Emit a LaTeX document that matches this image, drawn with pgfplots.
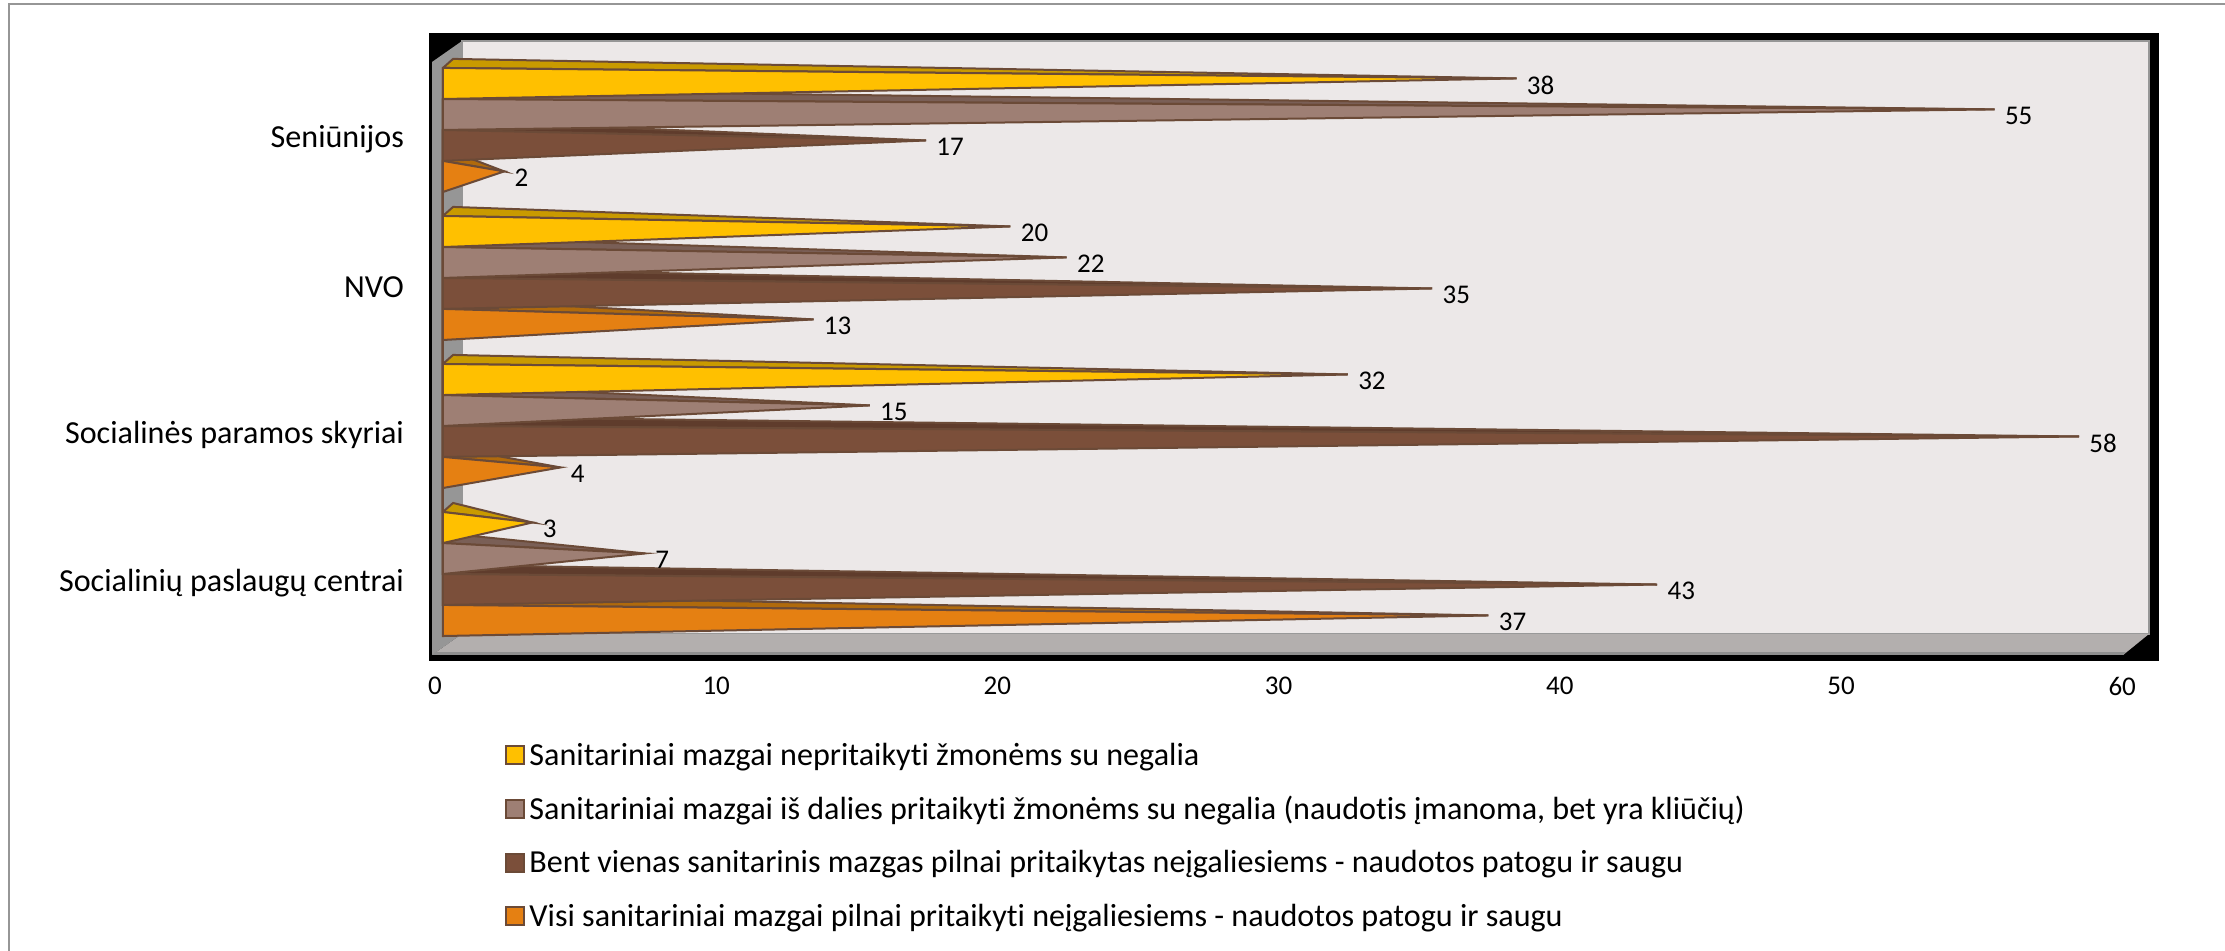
\documentclass[border=0pt]{standalone}
\usepackage{fontspec}
\setmainfont{Carlito}[Ligatures=NoCommon]
\usepackage{pgfplots}
\pgfplotsset{compat=1.18}

% 1 px of the reference = 0.5pt here
\definecolor{cYel}{HTML}{FFC000}
\definecolor{cYelD}{HTML}{C99A00}
\definecolor{cMau}{HTML}{9E7F74}
\definecolor{cMauD}{HTML}{7A5F56}
\definecolor{cBro}{HTML}{7B4F3A}
\definecolor{cBroD}{HTML}{5F3C2C}
\definecolor{cOra}{HTML}{E58012}
\definecolor{cOraD}{HTML}{B06A0C}
\definecolor{cEdge}{HTML}{6B4A37}
\definecolor{cWall}{HTML}{ECE8E8}
\definecolor{cSide}{HTML}{969696}
\definecolor{cFloor}{HTML}{B3AFAE}
\definecolor{cFloorD}{HTML}{8F8F8F}

\newcommand{\lbl}{\fontsize{13.5pt}{15pt}\selectfont}
\newcommand{\txt}{\fontsize{16.05pt}{18pt}\selectfont}

\begin{document}
\begin{tikzpicture}
\useasboundingbox (0,0) rectangle (1112.5pt,-475.5pt);
% outer chart frame, open at right and bottom
\draw[color=cSide,line width=1.2pt] (4.5pt,-475.5pt) -- (4.5pt,-2pt) -- (1112.5pt,-2pt);
\begin{axis}[
    at={(214.5pt,-330pt)},
    anchor=south west,
    scale only axis,
    width=864.5pt,
    height=313.5pt,
    xmin=-0.676, xmax=60.81,
    ymin=-0.581, ymax=3.655,
    axis background/.style={fill=black},
    axis line style={draw=black},
    xtick={0,10,20,30,40,50,60},
    ytick={0,1,2,3},
    yticklabels={Socialinių paslaugų centrai,Socialinės paramos skyriai,NVO,Seniūnijos},
    major tick length=0pt,
    /pgf/number format/assume math mode=true,
    xticklabel style={font=\lbl,xshift=-6.5pt,yshift=-5pt},
    yticklabel style={font=\txt,yshift=-4.6pt,xshift=-9pt},
    legend style={
        at={(0.044,-0.125)},anchor=north west,
        draw=none,fill=none,
        font=\txt,
        row sep=10pt,
        inner sep=0pt,
        /tikz/every even column/.append style={column sep=0pt},
    },
    legend cell align=left,
    legend image code/.code={\draw[#1,line width=1pt] (0pt,-4.5pt) rectangle (9pt,4.5pt);},
    every axis plot/.append style={line join=miter,miter limit=20},
]
% walls of the box
\addplot[fill=cWall,draw=cSide,line width=0.6pt,forget plot] coordinates {(0.498,3.601)(60.49,3.601)(60.49,-0.405)(0.498,-0.405)} --cycle;
\addplot[fill=cSide,draw=none,forget plot] coordinates {(-0.569,3.459)(0.498,3.601)(0.498,-0.405)(-0.569,-0.547)} --cycle;
\addplot[fill=cFloor,draw=none,forget plot] coordinates {(-0.569,-0.547)(0.498,-0.405)(60.49,-0.405)(59.57,-0.547)} --cycle;
\addplot[fill=cFloorD,draw=none,forget plot] coordinates {(-0.569,-0.547)(-0.462,-0.527)(59.67,-0.527)(59.57,-0.547)} --cycle;

% value labels, under the cones as in the reference
\addplot[draw=none,mark=none,forget plot,point meta=x,
    nodes near coords={\pgfmathprintnumber{\pgfplotspointmeta}},
    every node near coord/.style={anchor=west,inner sep=0pt,xshift=5pt,yshift=-3.4pt,font=\lbl}]
    coordinates {
    (38,3.348)(20,2.348)(32,1.348)(3,0.348)
    (55,3.139)(22,2.139)(15,1.139)(7,0.139)
    (17,2.929)(35,1.929)(58,0.929)(43,-0.071)
    (2,2.720)(13,1.720)(4,0.720)(37,-0.280)};

% Visi sanitariniai mazgai
\addplot[fill=cOraD,draw=cEdge,line width=1pt,forget plot] coordinates {
    (-0.18,-0.209)(0.18,-0.148)(37,-0.280)(-0.18,-0.209) (nan,nan)
    (-0.18,0.791)(0.18,0.852)(4,0.720)(-0.18,0.791) (nan,nan)
    (-0.18,1.791)(0.18,1.852)(13,1.720)(-0.18,1.791) (nan,nan)
    (-0.18,2.791)(0.18,2.852)(2,2.720)(-0.18,2.791)};
\addplot[fill=cOra,draw=cEdge,line width=1pt,forget plot] coordinates {
    (-0.18,-0.209)(37,-0.280)(-0.18,-0.419)(-0.18,-0.209) (nan,nan)
    (-0.18,0.791)(4,0.720)(-0.18,0.581)(-0.18,0.791) (nan,nan)
    (-0.18,1.791)(13,1.720)(-0.18,1.581)(-0.18,1.791) (nan,nan)
    (-0.18,2.791)(2,2.720)(-0.18,2.581)(-0.18,2.791)};

% Bent vienas sanitarinis mazgas
\addplot[fill=cBroD,draw=cEdge,line width=1pt,forget plot] coordinates {
    (-0.18,0)(0.18,0.061)(43,-0.071)(-0.18,0) (nan,nan)
    (-0.18,1)(0.18,1.061)(58,0.929)(-0.18,1) (nan,nan)
    (-0.18,2)(0.18,2.061)(35,1.929)(-0.18,2) (nan,nan)
    (-0.18,3)(0.18,3.061)(17,2.929)(-0.18,3)};
\addplot[fill=cBro,draw=cEdge,line width=1pt,forget plot] coordinates {
    (-0.18,0)(43,-0.071)(-0.18,-0.209)(-0.18,0) (nan,nan)
    (-0.18,1)(58,0.929)(-0.18,0.791)(-0.18,1) (nan,nan)
    (-0.18,2)(35,1.929)(-0.18,1.791)(-0.18,2) (nan,nan)
    (-0.18,3)(17,2.929)(-0.18,2.791)(-0.18,3)};

% iš dalies pritaikyti
\addplot[fill=cMauD,draw=cEdge,line width=1pt,forget plot] coordinates {
    (-0.18,0.209)(0.18,0.270)(7,0.139)(-0.18,0.209) (nan,nan)
    (-0.18,1.209)(0.18,1.270)(15,1.139)(-0.18,1.209) (nan,nan)
    (-0.18,2.209)(0.18,2.270)(22,2.139)(-0.18,2.209) (nan,nan)
    (-0.18,3.209)(0.18,3.270)(55,3.139)(-0.18,3.209)};
\addplot[fill=cMau,draw=cEdge,line width=1pt,forget plot] coordinates {
    (-0.18,0.209)(7,0.139)(-0.18,0)(-0.18,0.209) (nan,nan)
    (-0.18,1.209)(15,1.139)(-0.18,1)(-0.18,1.209) (nan,nan)
    (-0.18,2.209)(22,2.139)(-0.18,2)(-0.18,2.209) (nan,nan)
    (-0.18,3.209)(55,3.139)(-0.18,3)(-0.18,3.209)};

% nepritaikyti
\addplot[fill=cYelD,draw=cEdge,line width=1pt,forget plot] coordinates {
    (-0.18,0.419)(0.18,0.480)(3,0.348)(-0.18,0.419) (nan,nan)
    (-0.18,1.419)(0.18,1.480)(32,1.348)(-0.18,1.419) (nan,nan)
    (-0.18,2.419)(0.18,2.480)(20,2.348)(-0.18,2.419) (nan,nan)
    (-0.18,3.419)(0.18,3.480)(38,3.348)(-0.18,3.419)};
\addplot[fill=cYel,draw=cEdge,line width=1pt,forget plot] coordinates {
    (-0.18,0.419)(3,0.348)(-0.18,0.209)(-0.18,0.419) (nan,nan)
    (-0.18,1.419)(32,1.348)(-0.18,1.209)(-0.18,1.419) (nan,nan)
    (-0.18,2.419)(20,2.348)(-0.18,2.209)(-0.18,2.419) (nan,nan)
    (-0.18,3.419)(38,3.348)(-0.18,3.209)(-0.18,3.419)};

\addlegendimage{fill=cYel,draw=cEdge}
\addlegendentry{Sanitariniai mazgai nepritaikyti žmonėms su negalia}
\addlegendimage{fill=cMau,draw=cEdge}
\addlegendentry{Sanitariniai mazgai iš dalies pritaikyti žmonėms su negalia (naudotis įmanoma, bet yra kliūčių)}
\addlegendimage{fill=cBro,draw=cEdge}
\addlegendentry{Bent vienas sanitarinis mazgas pilnai pritaikytas neįgaliesiems - naudotos patogu ir saugu}
\addlegendimage{fill=cOra,draw=cEdge}
\addlegendentry{Visi sanitariniai mazgai pilnai pritaikyti neįgaliesiems - naudotos patogu ir saugu}
\end{axis}
\end{tikzpicture}
\end{document}
